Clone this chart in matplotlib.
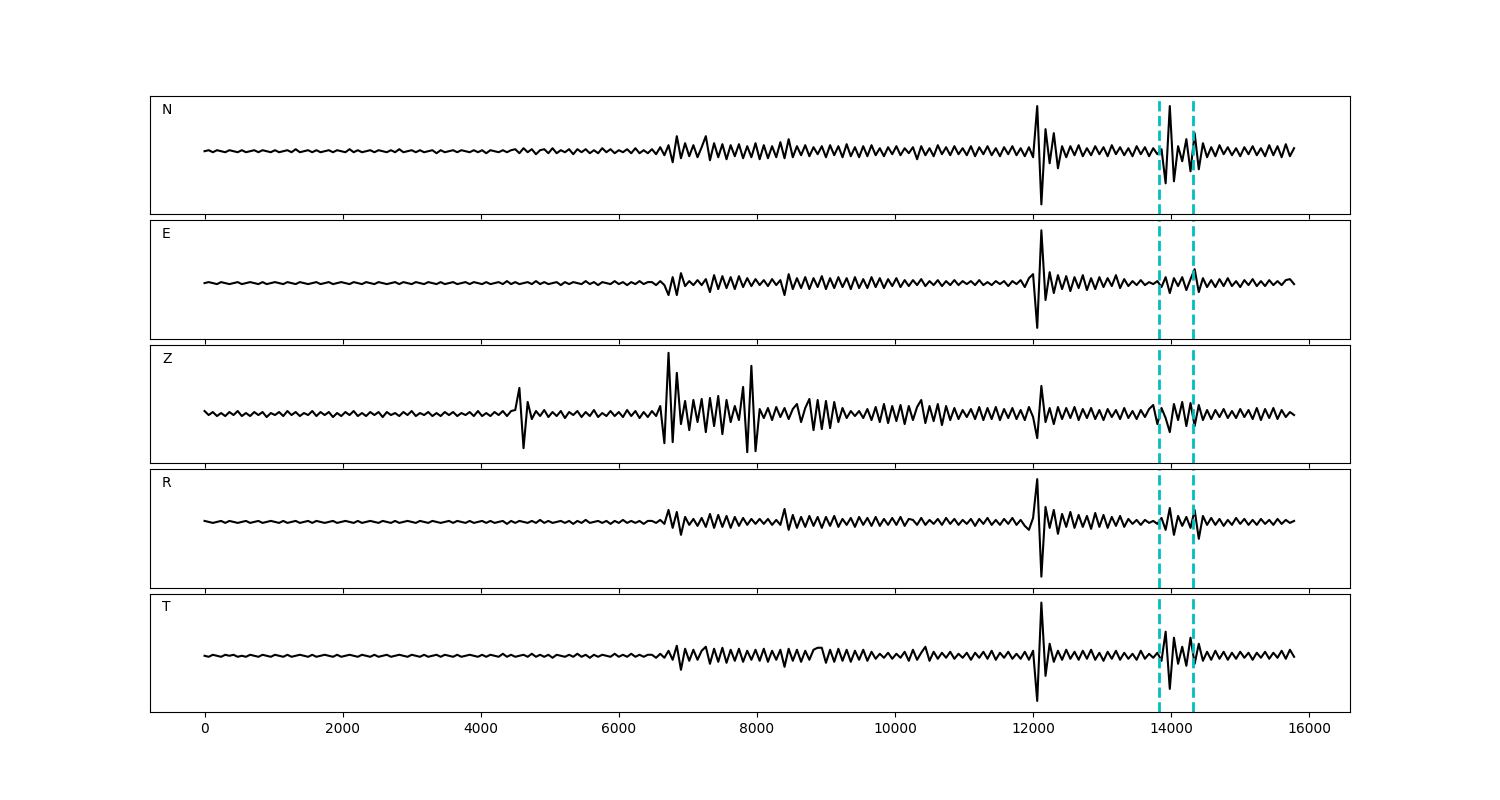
import numpy as np
import matplotlib
matplotlib.use("Agg")
import matplotlib.pyplot as plt

# sample spacing of the traces (x units)
dt = 60

channels = ["N", "E", "Z", "R", "T"]
picks = [13820, 14320]

# amplitudes, one value per sample
n_trace = [
    0, 1, -1, 1, 0, -1, 1, 0, -1, 1, -1, 0, 1, -1, 1, 0, -1, 1, -1, 0,
    1, -1, 2, -1, 0, 1, -1, 1, -1, 0, 1, -1, 1, 0, -1, 2, -1, 1, -1, 0,
    1, -1, 1, 0, -1, 1, -1, 2, -1, 0, 1, -1, 1, -1, 0, 1, -2, 1, -1, 0,
    1, -1, 1, 0, -1, 1, -1, 1, -2, 1, 0, -1, 1, -1, 1,
    2, -2, 3, -1, 2, -3, 1, 2, -2, 3, -2, 1, -1, 2, -3, 2, -1, 2, -2, 1,
    -2, 3, -1, 2, -2, 1, -1, 2, -2, 3, -2, 1, -2,
    2, -3, 4, -4, 6, -11, 15, -7, 8, -5, 6, -6, 4, 15, -9, 8, -6, 7, -8, 6, -5, 7, -7,
    5, -6, 8, -8, 6, -7, 5, -6, 9, -7, 12, -6, 5, -4, 6, -5, 4, -3, 5, -6,
    6, -4, 5, -6, 7, -5, 4, -6, 5, -5, 6, -4, 3, -5, 4, -3, 5, -4, 3, -2,
    4, -8, 5, -4, 3, -5, 6, -3, 4, -4, 5, -3, 3, -4, 5, -5, 4, -3, 5, -4,
    3, -5, 4, -3, 5, -4, 3, -5, 4, -6,
    45, -53, 22, -12, 18, -17, 5, -6,
    5, -4, 6, -5, 3, -4, 5, -3, 4, -5, 6, -3, 4, -4, 3, -5, 5, -3, 4, -5, 3, -3, 2,
    -32, 45, -30, 5, -10, 12, -20, 18, -18, 8, -6,
    4, -5, 6, -3, 4, -4, 3, -5, 4, -3, 5, -4, 3, -5, 6, -4, 5, -6, 7, -5, 3,
]

e_trace = [
    0, 1, 0, -1, 1, 0, -1, 0, 1, -1, 0, 1, 0, -1, 1, -1, 0, 1, 0, -1,
    1, 0, -1, 1, 0, -1, 0, 1, -1, 0, 1, -1, 0, 1, 0, -1, 1, 0, -1, 1,
    0, -1, 1, 0, -1, 0, 1, -1, 1, 0, -1, 1, 0, -1, 1, 0, -1, 1, -1, 0,
    1, -1, 0, 1, -1, 1, 0, -1, 1, -1, 0, 1, -1, 2, -1, 1, -1, 0, 1, -1,
    2, -1, 1, -1, 0, 1, -2, 1, -1, 1, 0, -1, 2, -1, 1, -2, 1, 0, -1, 2,
    -1, 1, -2, 1, -1, 2, -1, 1,
    1, -2, 2, -2,
    -12, 6, -12, 10, -3, 2, -2, 3, -2, 4, -9,
    8, -6, 7, -5, 6, -6, 7, -4, 5, -3, 4, -2, 3, -3, 4, -2, 3,
    -12, 9, -6, 5, -5, 6, -6, 5, -4, 7, -6, 5, -5, 6, -4, 5, -6, 6, -5, 4,
    -5, 6, -4, 5, -5, 4, -3, 5, -4, 3, -3,
    3, -2, 4, -3, 2, -2, 3, -3, 2, -2, 3, -2, 2, -1, 2, -2, 3, -2, 1, -2,
    2, -1, 2, -3, 2, -1, 3, -4, 5,
    9, -45, 53, -17, 11, -10, 8,
    -6, 7, -8, 6, -5, 8, -7, 5, -6, 6, -4, 5, -3, 8, -5, 4,
    -3, 2, -2, 3, -2, 1, -1,
    2, -4, 6, -10, 5, -3, 6, -7, 4, 14, -9, 5, -4,
    3, -4, 4, -3, 5, -3, 2, -4, 3, -2, 4, -3, 2, -3, 3, -2, 2, -2, 3, 4, -1,
]

z_trace = [
    3, -1, 2, -2, 1, -2, 2, -1, 3, -2, 1, -2, 2, -1, 2, -3, 1, -1, 2, -2,
    3, -1, 2, -2, 1, -1, 3, -2, 2, -1, 2, -3, 1, -2, 2, -1, 3, -2, 1, -2,
    2, -1, 2, -3, 2, -1, 1, -2, 2, -1, 3, -2, 1, -1, 2, -2, 1, -2, 2, -1,
    2, -2, 1, -1, 2, -2, 3, -2, 1, -2, 2, -1, 3, -2, 3,
    4, 26, -34, 12, -5,
    3, -2, 4, -3, 2, -2, 3, -4, 2, -1, 3, -3, 2, -2, 4, -3, 1, -2, 3, -2,
    2, -3, 4, -2, 3, -4, 2, -3, 3, -2,
    8, -29, 61, -28, 41, -10,
    13, -16, 14, -8, 15, -18, 16, -12, 18, -20, 14, -8, 8, -6,
    27, -38, 48, -37, 5,
    -4, 6, -6, 7, -3, 6, -5, 5, 10, -8, 6, 15, -16, 14, -15, 13, -14, 12, -8, 6,
    -4, 3, -2, 3, -4, 5,
    -6, 7, -8, 10, -9, 8, -7, 9, -10, 8, -6, 7, 14, -9, 8, -7, 10, -11, 8, -6,
    6, -5, 4, -3, 5, -5, 7, -6, 6, -5, 7, -6, 5, -4, 6, -5, 4, -6, 7, -3,
    -24, 28, -8, 6, -10, 7,
    -5, 6, -4, 7, -6, 5, -4, 6, -5, 4, -6, 5, -3, 4, -5, 6, -4, 3, -5, 4,
    -3, 5, 9,
    -10, 6, -4, -18, 10, -6, 12, -12, 11, -12, 9, -6, 4,
    -5, 4, -3, 5, -4, 3, -4, 5, -3, 4, -5, 6, -6, 5, -4, 6, -5, 4, -3, 2, -1,
]

r_trace = [
    1, 0, -1, 0, 1, -1, 1, 0, -1, 0, 1, -1, 0, 1, -1, 0, 1, 0, -1, 1,
    -1, 0, 1, -1, 0, 1, -1, 1, 0, -1, 0, 1, -1, 0, 1, 0, -1, 1, -1, 0,
    1, 0, -1, 1, 0, -1, 1, -1, 0, 1, 0, -1, 1, 0, -1, 1, 0, -1, 0, 1,
    -1, 1, 0, -1, 1, -1, 0, 1, -1, 1, -1, 0, 1, -2, 1, -1, 1, 0, -1, 1,
    -1, 2, -1, 1, -1, 0, 1, -1, 1, -2, 1, -1, 2, -1, 0, 1, -1, 1, -2, 1,
    -1, 2, -1, 1, -1, 1, -2, 1,
    1, -1, 2, -2,
    12, -6, 10, -13, 5, -3, 3, -4, 4, -5, 8, -6, 7, -5, 6, -6, 5, -4, 4, -3,
    3, -2, 3, -2, 3, -3, 2, -3,
    13, -8, 7, -6, 5, -5, 6, -4, 5, -6,
    5, -4, 6, -5, 3, -3, 4, -5, 5, -3, 4, -4, 5, -4, 3, -3, 4, -3, 5, -4, 3,
    2, -3, 4, -3, 2, -2, 3, -3, 4, -2, 3, -3, 2, -2, 3, -4, 3, -2, 4, -3,
    2, -3, 3, -2, 4, -3, 2, -4, -8,
    4, 43, -55, 15, -6, 12, -12, 8, -5, 10, -6, 7, -5, 6, -7, 9, -5, 7, -6, 5,
    -4, 6, -5,
    3, -2, 2, -3, 2, -1, 1,
    -2, 4, -8, 14, -13, 6, -4, 5, -6, 12, -17, 6, -3,
    4, -3, 3, -4, 2, -3, 4, -2, 3, -3, 2, -3, 3, -2, 2, -3, 3, -2, 2, -1, 1,
]

t_trace = [
    0, -1, 1, 0, -1, 1, 0, 1, -1, 0, -1, 1, 0, -1, 1, 0, -1, 1, 0, -1,
    1, -1, 0, 1, 0, -1, 1, -1, 0, 1, 0, -1, 1, -1, 0, 1, 0, -1, 1, 0,
    -1, 1, -1, 0, 1, -1, 0, 1, 0, -1, 1, 0, -1, 1, -1, 0, 1, -1, 1, 0,
    -1, 1, -1, 0, 1, 0, -1, 1, -1, 1, 0, -1, 2, -1, 1, -1, 0, 1, -1, 2,
    -1, 1, -1, 1, -2, 1, 0, -1, 1, -1, 2, -1, 1, -2, 1, -1, 1, 0, -1, 2,
    -1, 1, -1, 2, -1, 1, -1, 1,
    1, -2, 2, -2,
    5, -4, 10, -14, 7, -5, 6, -4, 5, 9, -8, 7, -6, 8, -7, 6, -5, 7, -6, 5,
    -4, 6, -5, 7, -6, 5, -4, 6,
    -11, 7, -5, 6, -6, 5, -4, 6, 8, 8, -7, 6, -6, 7, -5, 6, -6, 5, -4, 6,
    -5, 4, -3, 2, -2, 3, -3, 2, -2, 4, -5, 6, -4, 3, 9, -5, 4, -3, 3, -2,
    4, -3, 2, -2, 3, -4, 3, -2, 4, -3, 5, -4, 3, -2, 4, -3, 2, -3, 4, -4,
    5, -45, 53, -20, 12, -6, 5, -4, 6, -3,
    4, -4, 5, -3, 6, -4, 3, -5, 4, -3, 5, -4, 3, -3, 2, -4, 5, -3, 2, -2,
    3, -5, 24, -33, 18, -8, 9, -10, 18, -8, 12, -5, 4,
    -4, 5, -3, 4, -4, 3, -3, 4, -2, 3, -4, 3, -2, 4, -3, 3, -2, 5, -3, 6, -1,
]

traces = [n_trace, e_trace, z_trace, r_trace, t_trace]
# vertical window of each panel
ylims = [(-63, 55), (-56, 63), (-49, 69), (-66, 53), (-56, 62)]

fig, axes = plt.subplots(5, 1, sharex=True, figsize=(15, 8))
fig.subplots_adjust(left=0.1, right=0.9, top=0.88, bottom=0.11, hspace=0.05)

for ax, name, tr, yl in zip(axes, channels, traces, ylims):
    t = np.arange(len(tr)) * dt
    ax.plot(t, tr, color="k", lw=1.5)
    for p in picks:
        ax.axvline(p, color="c", ls="--", lw=2)
    ax.text(0.01, 0.85, name, transform=ax.transAxes)
    ax.set_yticks([])
    ax.set_ylim(yl)

axes[-1].set_xlim(-790, 16590)

fig.savefig("out.png", dpi=100)
